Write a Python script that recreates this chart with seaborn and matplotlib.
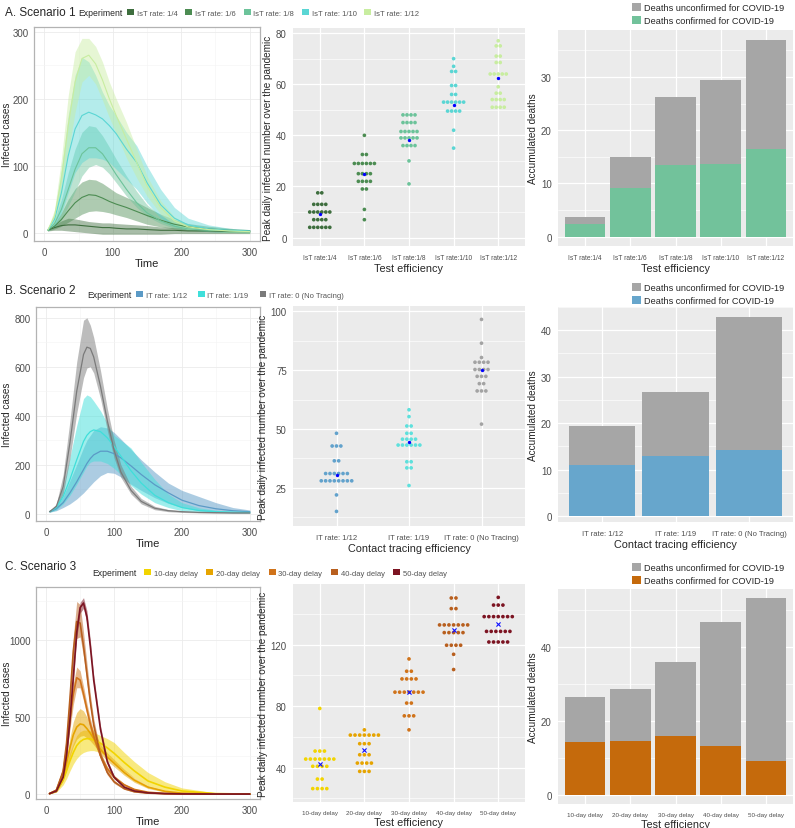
import numpy as np
import pandas as pd
import matplotlib
matplotlib.use("Agg")
import matplotlib.pyplot as plt
from matplotlib.patches import Patch
from matplotlib.ticker import MultipleLocator, FixedLocator
import seaborn as sns

sns.set_theme(style="white")
plt.rcParams['font.family'] = ['Liberation Sans', 'DejaVu Sans']

# ---------------- Scenario 1 : isolation / test rate ----------------
a_legend = ["IsT rate: 1/4", "IsT rate: 1/6", "IsT rate: 1/8", "IsT rate: 1/10", "IsT rate: 1/12"]
a_cats = ["IsT rate:1/4", "IsT rate:1/6", "IsT rate:1/8", "IsT rate:1/10", "IsT rate:1/12"]
a_colors = ["#3E6E3E", "#4C8C52", "#6CC39A", "#5AD6D4", "#C8EDA0"]
a_time = [5, 15, 25, 35, 45, 55, 65, 75, 85, 95, 105, 120, 135, 150, 170, 190, 210, 240, 270, 300]
a_mean = [
    [4, 8, 11, 12, 12, 11, 10, 9, 8, 8, 7, 6, 6, 5, 4, 4, 3, 3, 2, 2],
    [4, 10, 20, 33, 45, 53, 57, 56, 52, 47, 43, 38, 32, 26, 19, 13, 9, 6, 4, 3],
    [4, 14, 35, 65, 95, 118, 127, 127, 118, 103, 87, 65, 45, 30, 18, 10, 6, 4, 3, 2],
    [4, 20, 60, 115, 155, 175, 180, 176, 170, 160, 148, 125, 105, 75, 42, 22, 12, 6, 4, 3],
    [4, 25, 80, 160, 225, 260, 265, 252, 228, 200, 175, 140, 105, 70, 38, 18, 9, 5, 3, 2],
]
a_lo = [
    [3, 4, 4, 3, 2, 1, 0, -1, -2, -2, -2, -2, -2, -2, -2, -1, -1, -1, -1, -1],
    [3, 6, 10, 16, 22, 28, 32, 33, 32, 30, 27, 23, 18, 13, 9, 6, 4, 2, 1, 0],
    [3, 8, 20, 40, 62, 85, 98, 102, 98, 88, 75, 55, 38, 25, 14, 7, 4, 2, 1, 1],
    [3, 10, 30, 60, 90, 105, 112, 112, 110, 105, 95, 80, 65, 45, 22, 10, 5, 2, 1, 0],
    [3, 15, 55, 120, 180, 225, 235, 222, 198, 172, 148, 112, 82, 55, 28, 12, 5, 3, 1, 0],
]
a_hi = [
    [5, 12, 18, 22, 21, 19, 17, 16, 15, 15, 14, 13, 12, 11, 9, 8, 7, 6, 5, 5],
    [5, 14, 30, 50, 66, 76, 80, 79, 74, 67, 60, 53, 46, 38, 28, 20, 14, 10, 7, 5],
    [5, 20, 50, 90, 125, 150, 160, 158, 145, 128, 110, 85, 62, 42, 26, 15, 9, 6, 4, 3],
    [6, 30, 95, 175, 235, 262, 255, 235, 210, 190, 175, 150, 130, 100, 65, 38, 22, 12, 7, 5],
    [6, 35, 110, 205, 270, 290, 290, 278, 255, 225, 200, 165, 125, 85, 48, 24, 13, 7, 4, 3],
]
a_dot_levels = [
    [17.5, 13, 10, 7, 4],
    [40, 32.5, 29, 25, 22, 19, 11, 7],
    [48, 45, 41.5, 39, 36, 30, 21],
    [70, 67, 65, 59.5, 56, 53, 49.5, 42, 35],
    [77, 75, 71, 68.5, 64, 59, 56.5, 54, 51],
]
a_dot_counts = [
    [2, 4, 6, 4, 6],
    [1, 2, 6, 4, 4, 2, 1, 1],
    [4, 4, 5, 5, 4, 1, 1],
    [1, 1, 2, 2, 2, 6, 4, 1, 1],
    [1, 2, 2, 2, 5, 1, 2, 4, 4],
]
a_dot_means = [9.1, 25, 38.3, 52, 62.5]
a_deaths_total = [3.7, 15.0, 26.2, 29.4, 36.9]
a_deaths_conf = [2.4, 9.1, 13.5, 13.7, 16.5]

# ---------------- Scenario 2 : contact tracing ----------------
b_legend = ["IT rate: 1/12", "IT rate: 1/19", "IT rate: 0 (No Tracing)"]
b_cats = ["IT rate: 1/12", "IT rate: 1/19", "IT rate: 0 (No Tracing)"]
b_colors = ["#5B9AC6", "#3FDFDA", "#7A7A7A"]
b_dot_colors = ["#62A2CC", "#5EE0DC", "#A3A3A3"]
b_time = [5, 15, 25, 35, 45, 55, 60, 65, 70, 80, 90, 100, 110, 125, 140, 160, 180, 200, 225, 250, 275, 300]
b_mean = [
    [8, 20, 45, 85, 130, 180, 205, 225, 240, 255, 255, 245, 228, 195, 160, 118, 85, 55, 33, 20, 12, 8],
    [8, 25, 70, 140, 220, 295, 320, 335, 342, 335, 310, 275, 235, 175, 125, 75, 45, 25, 13, 8, 6, 5],
    [8, 30, 110, 290, 500, 650, 680, 675, 640, 520, 380, 260, 170, 95, 50, 22, 12, 8, 5, 4, 3, 3],
]
b_lo = [
    [6, 12, 25, 40, 60, 85, 100, 115, 130, 155, 168, 165, 150, 120, 95, 65, 42, 25, 12, 6, 3, 2],
    [6, 15, 40, 75, 120, 170, 195, 210, 215, 215, 205, 185, 160, 115, 80, 45, 25, 12, 6, 4, 3, 2],
    [6, 22, 80, 225, 410, 555, 595, 600, 575, 470, 340, 228, 148, 80, 40, 16, 8, 5, 3, 2, 2, 2],
]
b_hi = [
    [10, 28, 70, 135, 200, 270, 300, 320, 340, 355, 350, 332, 305, 262, 220, 170, 125, 95, 70, 45, 25, 15],
    [10, 35, 110, 230, 360, 470, 485, 478, 460, 420, 370, 320, 300, 268, 210, 140, 80, 45, 24, 14, 10, 8],
    [10, 40, 160, 380, 620, 790, 800, 770, 720, 585, 430, 300, 200, 112, 62, 30, 17, 11, 7, 6, 5, 4],
]
b_dot_levels = [
    [48.2, 42.8, 36.5, 31.1, 28, 22, 15],
    [58.2, 55.3, 51.3, 48.2, 45.7, 43.2, 36.1, 33.5, 26],
    [96.6, 86.5, 80.4, 78.4, 75.3, 72.4, 69.3, 66.2, 52.1],
]
b_dot_counts = [
    [1, 3, 2, 6, 8, 1, 1],
    [1, 1, 2, 2, 4, 6, 2, 2, 1],
    [1, 1, 1, 4, 4, 3, 2, 3, 1],
]
b_dot_means = [30.5, 44.6, 75.3]
b_deaths_total = [19.4, 26.6, 42.9]
b_deaths_conf = [10.9, 13.0, 14.2]

# ---------------- Scenario 3 : test delay ----------------
c_legend = ["10-day delay", "20-day delay", "30-day delay", "40-day delay", "50-day delay"]
c_cats = c_legend
c_colors = ["#F2D400", "#E6A400", "#D0731A", "#B85F1E", "#7C1422"]
c_time = [5, 15, 25, 30, 35, 40, 45, 50, 55, 60, 65, 70, 80, 90, 100, 115, 130, 150, 175, 200, 250, 300]
c_mean = [
    [3, 20, 90, 150, 215, 270, 315, 340, 355, 360, 358, 350, 330, 300, 265, 205, 150, 85, 45, 20, 3, 0],
    [3, 22, 110, 200, 300, 385, 435, 455, 450, 425, 395, 360, 290, 240, 200, 140, 90, 45, 18, 6, 1, 0],
    [3, 25, 140, 290, 480, 650, 755, 740, 650, 550, 455, 375, 250, 165, 110, 60, 30, 12, 4, 2, 0, 0],
    [3, 25, 150, 330, 620, 930, 1120, 1110, 960, 780, 600, 450, 250, 140, 80, 35, 15, 6, 2, 1, 0, 0],
    [3, 20, 110, 250, 480, 760, 1050, 1210, 1240, 1150, 960, 740, 420, 210, 110, 45, 20, 8, 3, 1, 0, 0],
]
c_lo = [
    [2, 12, 60, 100, 150, 195, 230, 255, 270, 278, 282, 282, 270, 245, 205, 150, 105, 55, 25, 10, 1, 0],
    [2, 15, 85, 160, 240, 310, 355, 375, 380, 365, 345, 320, 262, 215, 178, 122, 76, 36, 13, 4, 0, 0],
    [2, 18, 115, 245, 420, 580, 690, 690, 605, 510, 420, 345, 228, 150, 98, 52, 25, 10, 3, 1, 0, 0],
    [2, 18, 120, 280, 550, 840, 1010, 1020, 890, 720, 555, 415, 225, 125, 70, 30, 12, 5, 2, 1, 0, 0],
    [2, 15, 95, 225, 445, 720, 1010, 1175, 1205, 1110, 920, 705, 395, 195, 100, 40, 17, 6, 2, 1, 0, 0],
]
c_hi = [
    [4, 30, 120, 195, 270, 330, 380, 405, 415, 415, 410, 400, 380, 360, 335, 270, 210, 140, 80, 40, 8, 1],
    [4, 30, 140, 245, 365, 470, 530, 555, 540, 500, 460, 410, 325, 268, 225, 160, 105, 55, 24, 9, 1, 0],
    [4, 32, 165, 335, 540, 720, 825, 800, 700, 590, 490, 405, 272, 180, 122, 68, 35, 15, 5, 2, 1, 0],
    [4, 32, 180, 380, 690, 1020, 1250, 1230, 1050, 850, 650, 490, 275, 155, 90, 40, 18, 8, 3, 1, 0, 0],
    [4, 25, 125, 275, 515, 800, 1090, 1245, 1275, 1190, 1000, 775, 445, 225, 120, 50, 23, 10, 4, 2, 1, 0],
]
c_dot_levels = [
    [78.5, 50.8, 45.6, 40.9, 32.6, 26.4],
    [64.6, 61.2, 55.6, 48.4, 43, 37.6],
    [110.7, 102.7, 97.7, 89.1, 82, 73.7, 64.6],
    [150.3, 143.4, 132.8, 127.8, 119.6, 113.7, 103.8],
    [150.7, 145.7, 138.2, 128.6, 121.7],
]
c_dot_counts = [
    [1, 3, 7, 4, 2, 4],
    [1, 7, 3, 3, 4, 3],
    [1, 2, 4, 7, 2, 3, 1],
    [2, 2, 7, 5, 4, 1, 1],
    [1, 3, 7, 6, 5],
]
c_dot_means = [42.2, 51.5, 88.9, 129.5, 133.4]
c_deaths_total = [26.6, 28.7, 36.0, 46.7, 53.3]
c_deaths_conf = [14.4, 14.8, 16.0, 13.3, 9.3]

GREY_BAR = "#A6A6A6"
TICK_C = "#4D4D4D"

W, H = 795, 829
fig = plt.figure(figsize=(W / 100, H / 100), dpi=100)


def rect(x0, y0, x1, y1):
    return [x0 / W, 1 - y1 / H, (x1 - x0) / W, (y1 - y0) / H]


def line_panel(ax, box, time, mean, lo, hi, colors, labels, ylim, yticks, alpha, lw):
    for m, l, h, col, lab in zip(mean, lo, hi, colors, labels):
        ax.fill_between(time, l, h, color=col, alpha=alpha, linewidth=0)
        sns.lineplot(x=time, y=m, color=col, lw=lw, ax=ax)
    ax.set_xlim(-15, 315)
    ax.set_ylim(*ylim)
    ax.set_xticks([0, 100, 200, 300])
    ax.xaxis.set_minor_locator(FixedLocator([50, 150, 250]))
    ax.set_yticks(yticks)
    step = yticks[1] - yticks[0]
    ax.yaxis.set_minor_locator(MultipleLocator(step / 2))
    ax.grid(True, which="major", color="#EBEBEB", lw=0.6)
    ax.grid(True, which="minor", color="#F4F4F4", lw=0.4)
    ax.set_axisbelow(True)
    ax.set_facecolor("white")
    for s in ax.spines.values():
        s.set_color("#B3B3B3")
        s.set_linewidth(0.9)
    ax.tick_params(which="major", length=2.5, width=0.5, color="#B3B3B3",
                   labelsize=7, labelcolor=TICK_C, pad=1.5)
    ax.tick_params(which="minor", length=0)
    ax.set_xlabel("Time", fontsize=8, labelpad=1)
    ax.set_ylabel("Infected cases", fontsize=7.2, va="center")
    # keep the label just inside the figure's left edge
    ax.yaxis.set_label_coords((7 - box[0]) / (box[2] - box[0]), 0.5)


def gray_theme(ax, n, ylim, yticks, cat_labels, cat_fs, xlabel):
    ax.set_facecolor("#EBEBEB")
    ax.set_xlim(-0.6, n - 0.4)
    ax.set_ylim(*ylim)
    ax.set_xticks(range(n))
    ax.set_xticklabels(cat_labels, fontsize=cat_fs, color=TICK_C)
    ax.set_yticks(yticks)
    step = yticks[1] - yticks[0]
    ax.yaxis.set_minor_locator(MultipleLocator(step / 2))
    ax.grid(True, which="major", color="white", lw=0.9)
    ax.grid(True, which="minor", axis="y", color="white", lw=0.45)
    ax.set_axisbelow(True)
    for s in ax.spines.values():
        s.set_visible(False)
    ax.tick_params(which="major", length=2.5, width=0.6, color="#333333",
                   labelsize=7, pad=2)
    ax.tick_params(axis="y", labelcolor=TICK_C)
    ax.tick_params(axis="x", labelsize=cat_fs, pad=3)
    ax.tick_params(which="minor", length=0)
    ax.set_xlabel(xlabel, fontsize=7.8, labelpad=2)


def dot_panel(ax, cats, levels, counts, means, colors, step, mean_marker, ylim, yticks,
              cat_fs, xlabel):
    rows = []
    for i, (lv, ct) in enumerate(zip(levels, counts)):
        for v, k in zip(lv, ct):
            for j in range(k):
                rows.append((i + (j - (k - 1) / 2) * step, v, cats[i]))
    df = pd.DataFrame(rows, columns=["x", "y", "grp"])
    sns.scatterplot(data=df, x="x", y="y", hue="grp", palette=dict(zip(cats, colors)),
                    s=7, linewidth=0, legend=False, ax=ax, zorder=3)
    if mean_marker == "x":
        sns.scatterplot(x=list(range(len(cats))), y=means, marker="x", color="#1010FF",
                        s=9, linewidth=0.8, ax=ax, zorder=4)
    else:
        sns.scatterplot(x=list(range(len(cats))), y=means, marker="o", color="#0000FF",
                        s=6, linewidth=0, ax=ax, zorder=4)
    gray_theme(ax, len(cats), ylim, yticks, cats, cat_fs, xlabel)
    ax.set_ylabel("Peak daily infected number over the pandemic", fontsize=7.2, labelpad=2)


def bar_panel(ax, cats, total, conf, color, ylim, yticks, cat_fs, xlabel):
    df = pd.DataFrame({"cat": cats, "total": total, "conf": conf})
    sns.barplot(data=df, x="cat", y="total", color=GREY_BAR, saturation=1, width=0.9,
                linewidth=0, ax=ax, zorder=2)
    sns.barplot(data=df, x="cat", y="conf", color=color, saturation=1, width=0.9,
                linewidth=0, ax=ax, zorder=3)
    gray_theme(ax, len(cats), ylim, yticks, cats, cat_fs, xlabel)
    ax.set_ylabel("Accumulated deaths", fontsize=7.2, labelpad=2)


def exp_legend(x_title, x_items, y, labels, colors, colspace):
    fig.text(x_title / W, 1 - y / H, "Experiment", fontsize=6.2, va="center", ha="left")
    handles = [Patch(facecolor=c, edgecolor="none") for c in colors]
    fig.legend(handles, labels, loc="center left", bbox_to_anchor=(x_items / W, 1 - y / H),
               ncol=len(labels), frameon=False, fontsize=5.5, labelcolor="#555555",
               handlelength=0.9, handleheight=0.9, handletextpad=0.35,
               columnspacing=colspace, borderpad=0, borderaxespad=0)


def death_legend(y_top, color):
    handles = [Patch(facecolor=GREY_BAR, edgecolor="none"),
               Patch(facecolor=color, edgecolor="none")]
    fig.legend(handles, ["Deaths unconfirmed for COVID-19", "Deaths confirmed for COVID-19"],
               loc="upper left", bbox_to_anchor=(632 / W, 1 - y_top / H), frameon=False,
               fontsize=6.6, handlelength=1.0, handleheight=1.0, handletextpad=0.35,
               labelspacing=0.4, borderpad=0, borderaxespad=0)


# ---------------- Row A ----------------
box = (34, 28, 260, 242)
ax = fig.add_axes(rect(*box))
line_panel(ax, box, a_time, a_mean, a_lo, a_hi, a_colors, a_legend, (-12, 307),
           [0, 100, 200, 300], 0.45, 0.8)
ax = fig.add_axes(rect(293, 29, 525, 247))
dot_panel(ax, a_cats, a_dot_levels, a_dot_counts, a_dot_means, a_colors, 0.09, "o",
          (-3.3, 82), [0, 20, 40, 60, 80], 4.8, "Test efficiency")
ax = fig.add_axes(rect(558, 31, 793, 247))
bar_panel(ax, a_cats, a_deaths_total, a_deaths_conf, "#72C29B", (-1.75, 38.8),
          [0, 10, 20, 30], 4.8, "Test efficiency")

fig.text(5 / W, 1 - 13 / H, "A. Scenario 1", fontsize=8.5, va="center", ha="left")
exp_legend(78, 127, 14, a_legend, a_colors, 1.05)
death_legend(4, "#72C29B")

# ---------------- Row B ----------------
box = (36, 308, 260, 522)
ax = fig.add_axes(rect(*box))
line_panel(ax, box, b_time, b_mean, b_lo, b_hi, b_colors, b_legend, (-30, 844),
           [0, 200, 400, 600, 800], 0.5, 0.9)
ax = fig.add_axes(rect(293, 307, 525, 527))
dot_panel(ax, b_cats, b_dot_levels, b_dot_counts, b_dot_means, b_dot_colors, 0.06, "o",
          (8.8, 102.3), [25, 50, 75, 100], 5.5, "Contact tracing efficiency")
ax = fig.add_axes(rect(558, 308, 793, 523))
bar_panel(ax, b_cats, b_deaths_total, b_deaths_conf, "#67A6CC", (-1.3, 45),
          [0, 10, 20, 30, 40], 5.5, "Contact tracing efficiency")

fig.text(5 / W, 1 - 291 / H, "B. Scenario 2", fontsize=8.5, va="center", ha="left")
exp_legend(87, 136, 296, b_legend, b_colors, 1.45)
death_legend(284, "#67A6CC")

# ---------------- Row C ----------------
box = (36, 588, 260, 800)
ax = fig.add_axes(rect(*box))
line_panel(ax, box, c_time, c_mean, c_lo, c_hi, c_colors, c_legend, (-32, 1344),
           [0, 500, 1000], 0.5, 1.2)
ax = fig.add_axes(rect(293, 585, 525, 803))
dot_panel(ax, c_cats, c_dot_levels, c_dot_counts, c_dot_means, c_colors, 0.105, "x",
          (17.7, 159.4), [40, 80, 120], 4.5, "Test efficiency")
ax = fig.add_axes(rect(558, 590, 793, 805))
bar_panel(ax, c_cats, c_deaths_total, c_deaths_conf, "#C56A0C", (-2.3, 55.7),
          [0, 20, 40], 4.5, "Test efficiency")

fig.text(5 / W, 1 - 567 / H, "C. Scenario 3", fontsize=8.5, va="center", ha="left")
exp_legend(92, 144, 574, c_legend, c_colors, 1.15)
death_legend(564, "#C56A0C")

fig.savefig("out.png", dpi=100)
